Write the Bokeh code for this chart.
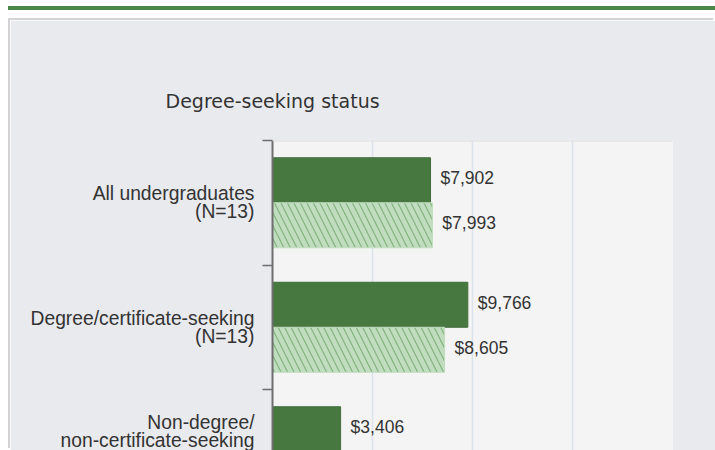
import numpy as np
from bokeh.plotting import figure
from bokeh.models import Range1d, FixedTicker, Span, Div
from bokeh.layouts import column
from bokeh.embed import file_html
from bokeh.resources import INLINE
from bokeh.core.properties import value

# ---- data ----
title_text = "Degree-seeking status"
categories = [
    "All undergraduates\n(N=13)",
    "Degree/certificate-seeking\n(N=13)",
    "Non-degree/\nnon-certificate-seeking",
]
series_solid = [7902, 9766, 3406]
series_hatched = [7993, 8605, None]
x_ticks = [0, 5000, 10000, 15000, 20000]

# ---- style ----
DARK = "#467840"
DARK_LINE = "#3f6e3a"
LIGHT = "#c0ddbf"
HATCH = "#4f8f49"
TXT = "#333333"
PANEL = "#e9eaee"
PLOTBG = "#f4f4f4"

W, H = 705, 430
FRAME_L, FRAME_R, FRAME_T = 262, 662, 120
BAND_PX = 124.5
bar_h = 45 / BAND_PX

n = len(categories)
idx = np.arange(n)
y_solid = idx - bar_h / 2
y_hatch = idx + bar_h / 2
frame_h = H - FRAME_T
y_top = -0.5
y_bottom = y_top + frame_h / BAND_PX

solid = np.array(series_solid, dtype=float)
hatched = np.array([np.nan if v is None else v for v in series_hatched], dtype=float)

p = figure(
    width=W, height=H, output_backend="svg", toolbar_location=None,
    x_range=Range1d(x_ticks[0], x_ticks[-1]),
    y_range=Range1d(y_bottom, y_top),
    min_border_left=FRAME_L, min_border_right=W - FRAME_R,
    min_border_top=FRAME_T, min_border_bottom=0,
    border_fill_color=PANEL, background_fill_color=PLOTBG,
    outline_line_color=None, title=title_text,
)
p.margin = (0, 0, 0, 10)
p.styles = {"box-shadow": "-2px -2px 0 0 #d3d3d3"}

p.title.align = "left"
p.title.offset = -107
p.title.standoff = 58
p.title.text_font = "DejaVu Sans"
p.title.text_font_size = "19px"
p.title.text_font_style = "normal"
p.title.text_color = TXT

p.xaxis.visible = False
p.xgrid.ticker = FixedTicker(ticks=x_ticks)
p.xgrid.grid_line_color = "#dde3ee"
p.xgrid.grid_line_width = 1.5
p.ygrid.visible = False

# category labels on the axis (centres), tick marks at band boundaries (minor ticks)
label_pos = [float(min(i, y_bottom - 1e-6)) for i in idx]
bounds = [float(b) for b in np.append(idx - 0.5, n - 0.5) if b <= y_bottom]
bounds[0] = y_top + 1e-6
p.yaxis.ticker = FixedTicker(ticks=label_pos, minor_ticks=bounds)
p.yaxis.major_label_overrides = {pos: cat for pos, cat in zip(label_pos, categories)}
p.yaxis.major_tick_line_color = None
p.yaxis.major_tick_in = 0
p.yaxis.major_tick_out = 0
p.yaxis.major_label_standoff = 8
p.yaxis.major_label_text_align = "right"
p.yaxis.major_label_text_font = "Liberation Sans"
p.yaxis.major_label_text_font_size = "19.3px"
p.yaxis.major_label_text_color = TXT
p.yaxis.major_label_text_line_height = 0.85
p.yaxis.minor_tick_in = 0
p.yaxis.minor_tick_out = 10
p.yaxis.minor_tick_line_color = "#6e6e6e"
p.yaxis.minor_tick_line_width = 1.5
p.yaxis.axis_line_color = "#6e6e6e"
p.yaxis.axis_line_width = 2

p.add_layout(Span(location=y_top, dimension="width", line_color="#dcdcdc", line_width=2))

p.hbar(y=y_solid, left=0, right=solid, height=bar_h,
       fill_color=DARK, line_color=DARK_LINE, line_width=1)
ok = ~np.isnan(hatched)
p.hbar(y=y_hatch[ok], left=0, right=hatched[ok], height=bar_h,
       fill_color=LIGHT, line_color=LIGHT, line_width=1,
       hatch_pattern="left_diagonal_line", hatch_color=HATCH,
       hatch_scale=13, hatch_weight=1.2, hatch_alpha=0.55)

fmt = lambda v: "${:,.0f}".format(v)
p.text(x=solid, y=y_solid, text=[fmt(v) for v in solid],
       x_offset=10, y_offset=-2, text_align="left", text_baseline="middle",
       text_font=value("Liberation Sans"), text_font_size="17.5px", text_color=TXT)
p.text(x=hatched[ok], y=y_hatch[ok], text=[fmt(v) for v in hatched[ok]],
       x_offset=10, y_offset=-2, text_align="left", text_baseline="middle",
       text_font=value("Liberation Sans"), text_font_size="17.5px", text_color=TXT)

green = Div(text="", width=707, height=4, margin=(6, 0, 0, 8),
            styles={"background-color": "#4b8748"})
layout = column(green, p, spacing=10)

open("out.html", "w").write(file_html(layout, INLINE))
